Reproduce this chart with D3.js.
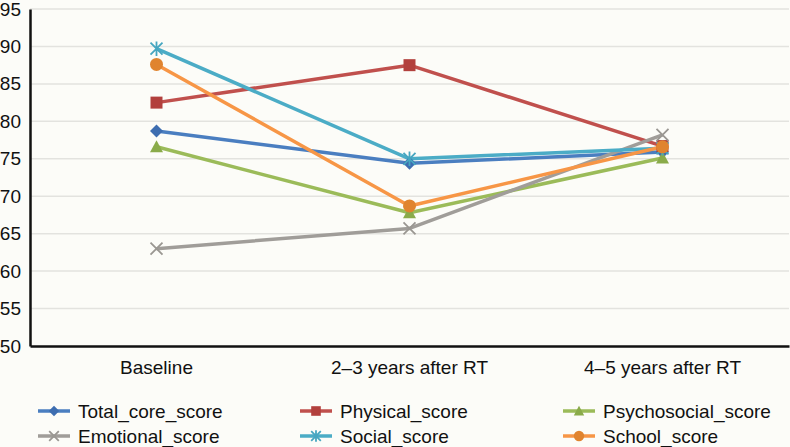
<!DOCTYPE html>
<html><head><meta charset="utf-8">
<script src="https://cdn.jsdelivr.net/npm/d3@7"></script>
<style>body{margin:0;background:#fcfcf8;}svg{display:block;font-family:"Liberation Sans",Arial,sans-serif;}</style>
</head><body><svg id="c" width="790" height="447"></svg>
<script>
const categories = ["Baseline", "2\u20133 years after RT", "4\u20135 years after RT"];
const yTicks = [50,55,60,65,70,75,80,85,90,95];
const seriesNames = ["Total_core_score","Physical_score","Psychosocial_score","Emotional_score","Social_score","School_score"];
const totalCore = [78.7, 74.4, 75.9];
const physical = [82.5, 87.5, 76.7];
const psychosocial = [76.6, 67.8, 75.1];
const emotional = [63.0, 65.7, 78.2];
const social = [89.7, 75.0, 76.4];
const school = [87.6, 68.7, 76.6];
const lineColors = ["#4a7ec0","#c0504d","#9bbb59","#a09d99","#4bacc6","#f79646"];
const markerColors = ["#3d6db0","#b2403d","#8aab4a","#9a9792","#46a6c0","#e0842f"];
const markers = ["diamond","square","triangle","x","asterisk","circle"];
const seriesValues = [totalCore, physical, psychosocial, emotional, social, school];

const FONT = "'Liberation Sans',Arial,sans-serif";
const svg = d3.select("#c");
svg.append("rect").attr("width",790).attr("height",447).attr("fill","#fcfcf8");
const m = {l:30, r:1, t:9, b:101};
const W = 790, H = 447;
const x = d3.scaleBand().domain(categories).range([m.l, W-m.r]);
const y = d3.scaleLinear().domain([50,95]).range([H-m.b, m.t]);

// grid
svg.append("g").selectAll("line").data(yTicks.filter(d=>d>50)).join("line")
  .attr("x1",m.l).attr("x2",W-m.r).attr("y1",d=>y(d)).attr("y2",d=>y(d))
  .attr("stroke","#e3e3df").attr("stroke-width",1.5);

// y axis
const ya = svg.append("g").attr("transform",`translate(${m.l},0)`)
  .call(d3.axisLeft(y).tickValues(yTicks).tickSize(0).tickPadding(9));
ya.select(".domain").attr("stroke","#111").attr("stroke-width",2.5);
ya.selectAll("text").attr("font-size",19).attr("fill","#111").attr("font-family",FONT);

// x axis
const xa = svg.append("g").attr("transform",`translate(0,${H-m.b})`)
  .call(d3.axisBottom(x).tickSize(0).tickPadding(15));
xa.select(".domain").attr("stroke","#111").attr("stroke-width",2.5);
xa.selectAll("text").attr("font-size",19).attr("fill","#111").attr("font-family",FONT);

function drawMarker(g, type, cx, cy, color, s){
  s = s||1;
  if(type==="diamond"){
    g.append("path").attr("d",`M${cx},${cy-6.5*s}L${cx+6.5*s},${cy}L${cx},${cy+6.5*s}L${cx-6.5*s},${cy}Z`).attr("fill",color);
  } else if(type==="square"){
    g.append("rect").attr("x",cx-6*s).attr("y",cy-6*s).attr("width",12*s).attr("height",12*s).attr("fill",color);
  } else if(type==="triangle"){
    g.append("path").attr("d",`M${cx},${cy-6.5*s}L${cx+6.5*s},${cy+5.5*s}L${cx-6.5*s},${cy+5.5*s}Z`).attr("fill",color);
  } else if(type==="circle"){
    g.append("circle").attr("cx",cx).attr("cy",cy).attr("r",6.5*s).attr("fill",color);
  } else if(type==="x"){
    const r=6*s;
    g.append("path").attr("d",`M${cx-r},${cy-r}L${cx+r},${cy+r}M${cx-r},${cy+r}L${cx+r},${cy-r}`).attr("stroke",color).attr("stroke-width",1.8);
  } else if(type==="asterisk"){
    const r=6*s;
    g.append("path").attr("d",`M${cx-r},${cy-r}L${cx+r},${cy+r}M${cx-r},${cy+r}L${cx+r},${cy-r}M${cx},${cy-r*1.2}L${cx},${cy+r*1.2}`).attr("stroke",color).attr("stroke-width",1.8);
  }
}

const line = d3.line().x((d,i)=>x(categories[i])+x.bandwidth()/2).y(d=>y(d));
const plot = svg.append("g");
seriesValues.forEach((vals,si)=>{
  plot.append("path").datum(vals).attr("d",line).attr("fill","none")
    .attr("stroke",lineColors[si]).attr("stroke-width",3.5).attr("stroke-linejoin","round");
});
seriesValues.forEach((vals,si)=>{
  const g = plot.append("g");
  vals.forEach((v,i)=>drawMarker(g, markers[si], x(categories[i])+x.bandwidth()/2, y(v), markerColors[si]));
});

// legend
const legX = [38, 300, 563], legY = [411, 436];
seriesNames.forEach((name,i)=>{
  const col = i%3, row = Math.floor(i/3);
  const g = svg.append("g").attr("transform",`translate(${legX[col]},${legY[row]})`);
  g.append("line").attr("x1",0).attr("x2",32).attr("y1",0).attr("y2",0).attr("stroke",lineColors[i]).attr("stroke-width",3.5);
  drawMarker(g, markers[i], 16, 0, markerColors[i], 0.8);
  g.append("text").attr("x",40).attr("y",0).attr("dy","0.35em").attr("font-size",19).attr("font-family",FONT).attr("fill","#111").text(name);
});
</script></body></html>
